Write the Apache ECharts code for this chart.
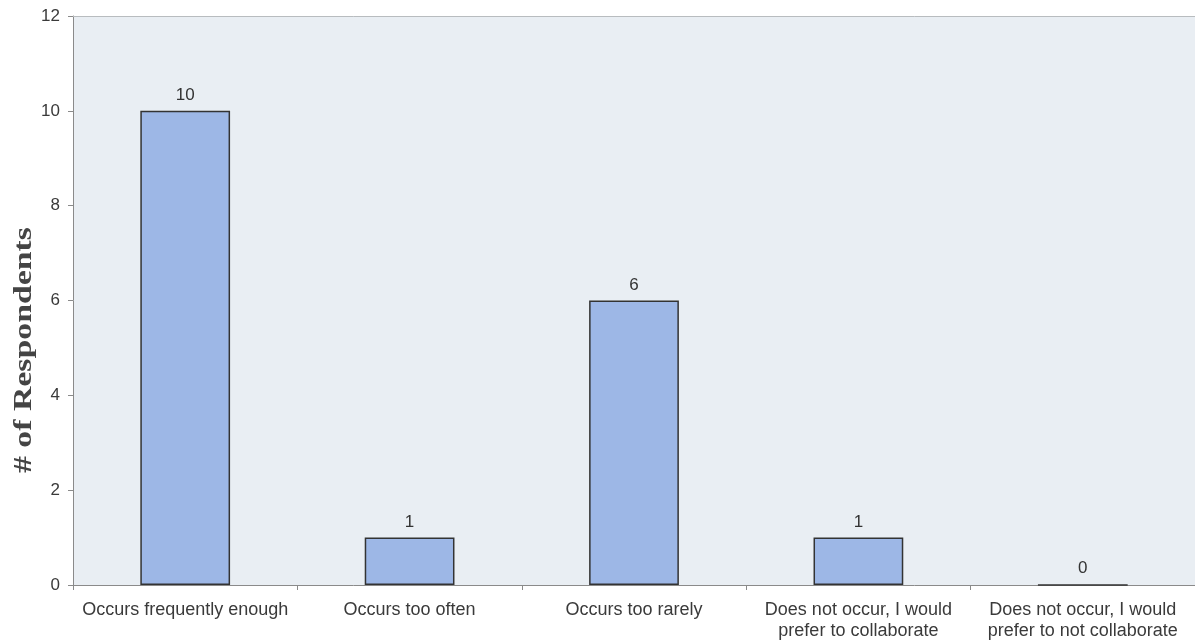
<!DOCTYPE html>
<html><head><meta charset="utf-8">
<script src="https://cdn.jsdelivr.net/npm/echarts@6/dist/echarts.min.js"></script>
<style>html,body{margin:0;padding:0;background:#fff;overflow:hidden}
#c{width:1195px;height:642px}</style>
</head><body><div id="c"></div>
<script>
const categories = ['Occurs frequently enough','Occurs too often','Occurs too rarely','Does not occur, I would\nprefer to collaborate','Does not occur, I would\nprefer to not collaborate'];
const respondents = [10, 1, 6, 1, 0];
const yTicks = [0, 2, 4, 6, 8, 10, 12];
const yTitle = '# of Respondents';

const chart = echarts.init(document.getElementById('c'), null, {renderer: 'canvas'});
chart.setOption({
  animation: false,
  backgroundColor: '#ffffff',
  grid: {left: 73, top: 16, right: 0, bottom: 55, show: true, backgroundColor: '#e9eef3', borderWidth: 0},
  graphic: [{
    type: 'text', rotation: Math.PI / 2, originX: 0, originY: 0,
    x: 24, y: 350, scaleX: 1.3, scaleY: 1,
    style: {text: yTitle, fill: '#444', font: 'bold 26px "Liberation Serif", "Times New Roman", serif', align: 'center', verticalAlign: 'middle'}
  }],
  xAxis: [{
    type: 'category', data: categories,
    axisLine: {lineStyle: {color: '#8a8a8a', width: 1}},
    axisTick: {show: true, length: 5, lineStyle: {color: '#8a8a8a'}},
    axisLabel: {color: '#3a3a3a', fontFamily: 'Liberation Sans, Arial, sans-serif', fontSize: 18, lineHeight: 21, margin: 15, interval: 0}
  }, {
    type: 'category', data: categories, position: 'top',
    axisLine: {show: true, lineStyle: {color: '#b8bcbf', width: 1}},
    axisTick: {show: false}, axisLabel: {show: false}
  }],
  yAxis: {
    type: 'value', min: yTicks[0], max: yTicks[yTicks.length - 1], interval: 2,
    axisLine: {show: true, lineStyle: {color: '#8a8a8a', width: 1}},
    axisTick: {show: true, length: 5, lineStyle: {color: '#8a8a8a'}},
    splitLine: {show: false},
    axisLabel: {color: '#3a3a3a', fontFamily: 'Liberation Sans, Arial, sans-serif', fontSize: 17, margin: 13}
  },
  series: [{
    type: 'bar', data: respondents, barWidth: '40%', xAxisIndex: 0,
    itemStyle: {color: '#9db7e6', borderColor: '#333333', borderWidth: 1.5},
    label: {show: true, position: 'top', distance: 7, color: '#333', fontFamily: 'Liberation Sans, Arial, sans-serif', fontSize: 17}
  }]
});
</script></body></html>
